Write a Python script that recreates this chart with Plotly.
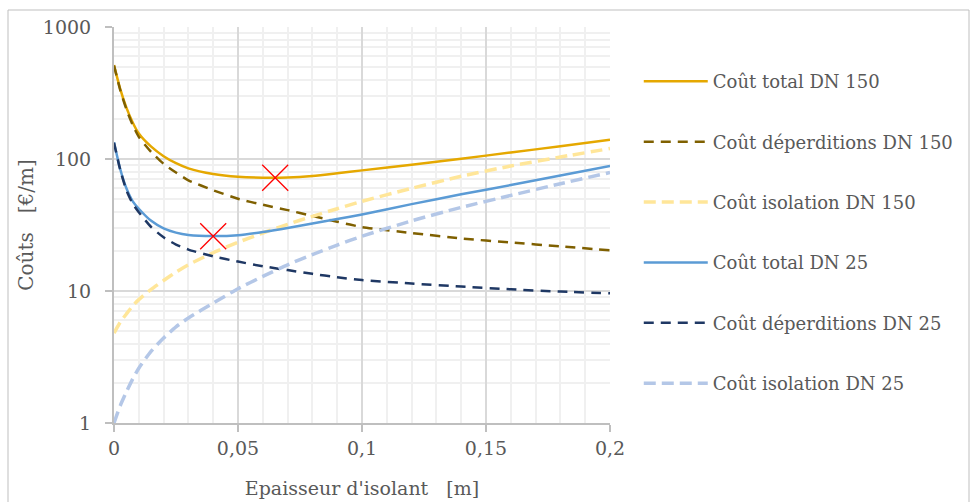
import plotly.graph_objects as go

# Epaisseur d'isolant [m]
epaisseur = [0, 0.0025, 0.005, 0.0075, 0.01, 0.015, 0.02, 0.025, 0.03, 0.04, 0.05,
             0.06, 0.07, 0.08, 0.09, 0.1, 0.12, 0.14, 0.16, 0.18, 0.2]

# DN 150
total_dn150 = [515, 340, 245, 190, 156, 124, 105, 93, 85, 77, 73.4,
               72.2, 72.5, 74.5, 78, 82, 90.5, 100.5, 112, 125, 140]
deperd_dn150 = [510, 334, 238, 182, 147, 113, 92, 79, 69, 58, 50,
                45, 41, 37, 33.5, 30.5, 27.5, 25, 23.3, 21.8, 20.3]
isol_dn150 = [4.8, 5.8, 6.7, 7.7, 8.6, 10.3, 12.0, 13.9, 15.8, 19.5, 23.4,
              27.5, 32, 36.8, 42, 47.8, 60, 74, 88.5, 103.5, 120]

# DN 25
total_dn25 = [134, 84, 60, 48, 42, 34, 29.8, 27.7, 26.6, 26.1, 26.5,
              28, 30, 32.5, 35.1, 38, 45.5, 54, 63.5, 75, 88.5]
deperd_dn25 = [133, 83, 58, 46, 39.5, 30.5, 25.5, 22.5, 20.6, 18.3, 16.7,
               15.4, 14.4, 13.5, 12.7, 12.1, 11.4, 10.8, 10.3, 9.9, 9.6]
isol_dn25 = [1.0, 1.35, 1.72, 2.15, 2.6, 3.5, 4.4, 5.35, 6.25, 8.1, 10.4,
             12.9, 15.8, 18.9, 22.3, 26, 34, 43, 53, 65, 79]

# Optima
opt_x = [0.065, 0.04]
opt_y = [72, 26]

series = [
    ("Coût total DN 150", total_dn150, "#E5A800", 2.5, "solid"),
    ("Coût déperditions DN 150", deperd_dn150, "#7F6000", 2.5, "10px,7px"),
    ("Coût isolation DN 150", isol_dn150, "#FFE699", 3.5, "12px,6px"),
    ("Coût total DN 25", total_dn25, "#5B9BD5", 2.5, "solid"),
    ("Coût déperditions DN 25", deperd_dn25, "#1F3864", 2.5, "10px,7px"),
    ("Coût isolation DN 25", isol_dn25, "#B4C7E7", 3.5, "12px,6px"),
]

fig = go.Figure()
for i, (name, vals, color, width, dash) in enumerate(series):
    fig.add_trace(go.Scatter(
        x=epaisseur, y=vals, name=name, mode="lines", legendgroup=f"g{i}",
        line=dict(color=color, width=width, dash=dash, shape="spline", smoothing=0.6),
    ))

fig.add_trace(go.Scatter(
    x=opt_x, y=opt_y, mode="markers", showlegend=False,
    marker=dict(symbol="x-thin", size=26, line=dict(color="#FF0000", width=1.3)),
))

txt = "#595959"
fs = 19
ff = "DejaVu Serif"
nb = "\u00a0"

fig.update_layout(
    template="none",
    width=972, height=502,
    margin=dict(l=114, r=362, t=27, b=79),
    paper_bgcolor="white", plot_bgcolor="white",
    separators=", ",
    font=dict(family=ff, size=fs, color=txt),
    showlegend=True,
    legend=dict(
        x=1.058, y=0.909, xanchor="left", yanchor="top",
        font=dict(family=ff, size=18, color=txt),
        tracegroupgap=34, itemwidth=64, bgcolor="rgba(0,0,0,0)",
    ),
    xaxis=dict(
        range=[0, 0.2], dtick=0.05, tick0=0,
        showgrid=True, gridcolor="#D9D9D9", gridwidth=1.5,
        minor=dict(dtick=0.01, showgrid=True, gridcolor="#F0F0F0", gridwidth=1.5),
        showline=True, linecolor="#BFBFBF", linewidth=2,
        ticks="outside", ticklen=7, tickcolor="#BFBFBF", tickwidth=1.5,
        zeroline=False,
        tickfont=dict(family=ff, size=fs, color=txt),
        title=dict(text=f"Epaisseur d'isolant{nb}{nb}{nb}[m]",
                   font=dict(family=ff, size=fs, color=txt), standoff=24),
    ),
    yaxis=dict(
        type="log", range=[0, 3],
        tickvals=[1, 10, 100, 1000], ticktext=["1", "10", "100", "1000"],
        showgrid=True, gridcolor="#D9D9D9", gridwidth=1.5,
        minor=dict(dtick="D1", showgrid=True, gridcolor="#F0F0F0", gridwidth=1.5, ticks=""),
        showline=True, linecolor="#BFBFBF", linewidth=2,
        ticks="outside", ticklen=7, tickcolor="#BFBFBF", tickwidth=1.5,
        ticklabelstandoff=10,
        zeroline=False,
        tickfont=dict(family=ff, size=fs, color=txt),
        title=dict(text=f"Coûts{nb}{nb}{nb}[€/m]",
                   font=dict(family=ff, size=20, color=txt), standoff=4),
    ),
    shapes=[dict(type="rect", xref="paper", yref="paper",
                 x0=(8 - 114) / 496, x1=(969 - 114) / 496,
                 y0=-(530 - 423) / 396, y1=(423 - 10) / 396,
                 line=dict(color="#BFBFBF", width=1), fillcolor="rgba(0,0,0,0)", layer="below")],
)

fig.write_html("out.html")
